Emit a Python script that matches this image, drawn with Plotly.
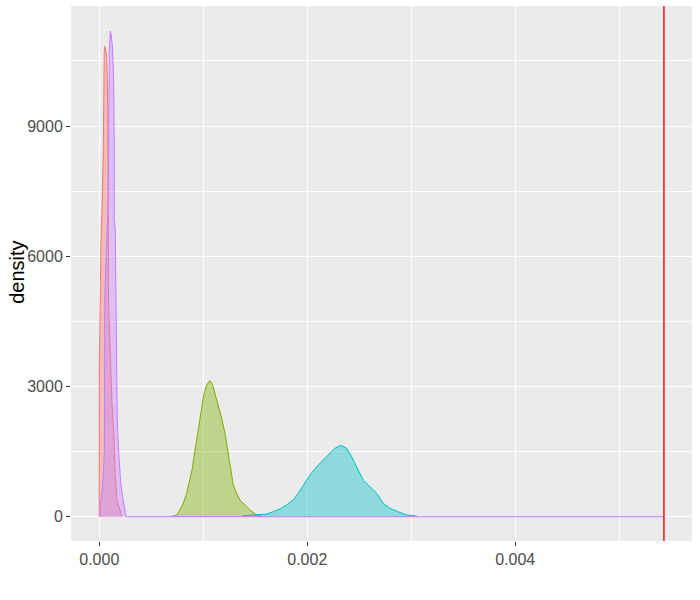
import plotly.graph_objects as go

# ---- data ----
red_x = [0.0, 0.0, 0.0000096, 0.0000163, 0.0000288, 0.0000385, 0.000048, 0.0000548,
         0.0000712, 0.0000808, 0.0000856, 0.0000885, 0.000108, 0.000122, 0.000141,
         0.000154, 0.00017, 0.000192, 0.000209, 0.000218]
red_y = [0, 3380, 5110, 6370, 7300, 8450, 10740, 10840, 10630, 9600, 7760, 4990,
         3610, 2610, 1870, 910, 385, 200, 40, 0]

green_x = [0.000689, 0.000744, 0.000776, 0.000808, 0.00084, 0.000865, 0.000892, 0.000911,
           0.000937, 0.000962, 0.000985, 0.001007, 0.001033, 0.001064, 0.00109, 0.001113,
           0.001144, 0.001177, 0.001209, 0.00124, 0.001263, 0.001288, 0.001321, 0.001353,
           0.001401, 0.001449, 0.001513, 0.001577]
green_y = [0, 39, 154, 309, 539, 770, 1076, 1382, 1767, 2152, 2459, 2843, 3035, 3134,
           3035, 2843, 2574, 2267, 1922, 1461, 1076, 730, 539, 385, 270, 154, 39, 0]

cyan_x = [0.001369, 0.001481, 0.00161, 0.001673, 0.001738, 0.001802, 0.001865, 0.001913,
          0.001962, 0.002026, 0.00209, 0.002154, 0.002218, 0.002266, 0.002321, 0.002379,
          0.002427, 0.002475, 0.002538, 0.002603, 0.002667, 0.002731, 0.002795, 0.002875,
          0.002956, 0.003052, 0.003052]
cyan_y = [16, 32, 62, 115, 177, 270, 385, 539, 730, 961, 1152, 1306, 1461, 1576, 1645,
          1576, 1382, 1152, 846, 691, 539, 309, 194, 115, 39, 16, 0]

purple_x = [0.0000067, 0.0000067, 0.0000192, 0.0000356, 0.00005, 0.000052, 0.0000673,
            0.0000837, 0.00009, 0.00009, 0.0000962, 0.000106, 0.000115, 0.000129,
            0.000138, 0.000144, 0.000144, 0.000154, 0.00016, 0.000167, 0.000173,
            0.000187, 0.000206, 0.000225, 0.00025, 0.000257, 0.00543]
purple_y = [0, 155, 454, 776, 1536, 4990, 6070, 7060, 8450, 9830, 10750, 11190, 11100,
            10750, 10060, 8680, 6840, 6610, 4530, 3380, 2230, 1470, 775, 454, 85, 0, 0]

ref_line_x = 0.00543

x_ticks = [0.0, 0.002, 0.004]
y_ticks = [0, 3000, 6000, 9000]
y_title = "density"

series = [
    (red_x, red_y, "#F8766D", "rgba(248,118,109,0.4)"),
    (green_x, green_y, "#7CAE00", "rgba(124,174,0,0.4)"),
    (cyan_x, cyan_y, "#00BFC4", "rgba(0,191,196,0.4)"),
    (purple_x, purple_y, "#C77CFF", "rgba(199,124,255,0.4)"),
]

fig = go.Figure()
for xs, ys, col, fcol in series:
    fig.add_trace(go.Scatter(x=xs, y=ys, mode="lines", fill="tozeroy",
                             line=dict(color=col, width=1), fillcolor=fcol,
                             hoverinfo="skip", showlegend=False))

fig.add_shape(type="line", x0=ref_line_x, x1=ref_line_x, y0=0, y1=1,
              xref="x", yref="paper", line=dict(color="#FF0000", width=1.4))

fig.add_annotation(text=y_title, textangle=-90, xref="paper", yref="paper",
                   x=-0.087, y=0.503, xanchor="center", yanchor="middle",
                   showarrow=False,
                   font=dict(family="Liberation Sans, Arial, sans-serif", size=20,
                             color="black"))

axis_common = dict(
    showgrid=True, gridcolor="white", gridwidth=1.1, zeroline=False,
    ticks="outside", ticklen=4, tickcolor="#333333", tickwidth=1.1,
    tickfont=dict(family="Liberation Sans, Arial, sans-serif", size=16, color="#4D4D4D"),
    showline=False, automargin=False,
)

fig.update_layout(
    width=700, height=600,
    margin=dict(l=71, r=8, t=6, b=59),
    paper_bgcolor="white", plot_bgcolor="#EBEBEB",
    showlegend=False,
    xaxis=dict(range=[-0.000272, 0.0057], tickmode="array", tickvals=x_ticks,
               ticktext=[f"{v:.3f}" for v in x_ticks],
               minor=dict(dtick=0.001, tick0=0, showgrid=True, gridcolor="white",
                          gridwidth=0.55, ticklen=0),
               **axis_common),
    yaxis=dict(range=[-560, 11767], tickmode="array", tickvals=y_ticks,
               ticktext=[str(v) for v in y_ticks],
               minor=dict(dtick=1500, tick0=0, showgrid=True, gridcolor="white",
                          gridwidth=0.55, ticklen=0),
               **axis_common),
)

fig.write_html("out.html", config={"displayModeBar": False},
               post_script="document.body.style.margin='0';")
